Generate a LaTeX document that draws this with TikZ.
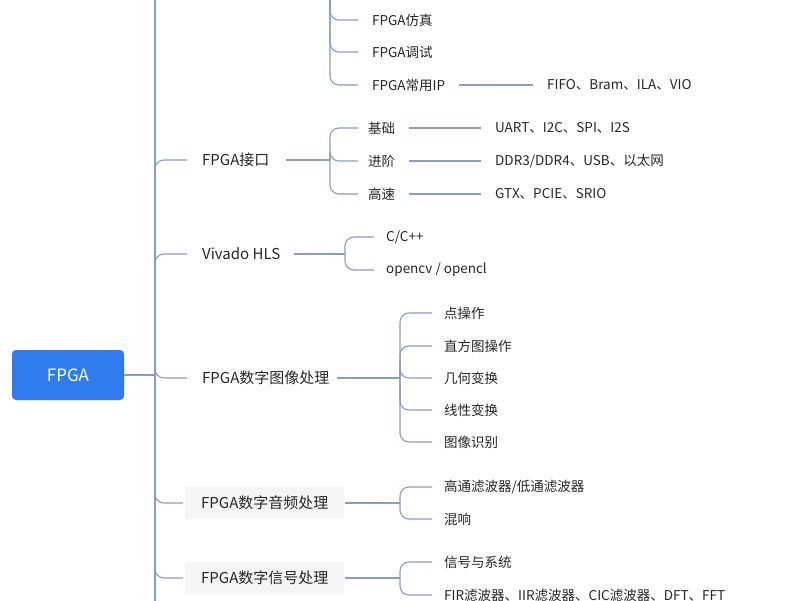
\documentclass[tikz,border=0pt]{standalone}
\usepackage{fontspec}
\setmainfont{Noto Sans CJK SC}
\definecolor{lc}{HTML}{8A9CC0}
\definecolor{rb}{HTML}{2F7BEF}
\begin{document}
\begin{tikzpicture}[x=1pt,y=-1pt,
  t/.style={anchor=west,inner sep=2pt,font=\fontsize{13.5}{15}\selectfont,text=black!85},
  l1/.style={t,font=\fontsize{15}{17}\selectfont},
  gb/.style={l1,fill=black!4,inner xsep=16pt,inner ysep=9pt},
  ln/.style={draw=lc,line width=1.1pt},
  br/.style={ln,rounded corners=9pt}]
\useasboundingbox (0,0) rectangle (800,600);
\clip (0,0) rectangle (800,600);
% root
\node[fill=rb,rounded corners=4pt,minimum width=112pt,minimum height=50pt,text=white,font=\fontsize{17}{20}\selectfont] (root) at (68,375) {FPGA};
\coordinate (m) at (155,375);
\draw[ln] (root.east) -- (m);
\coordinate (mt) at (155,-5);
\coordinate (mb) at (155,605);
\draw[ln] (mt) -- (mb);
% level 1
\node[l1] (jk) at (200,160) {FPGA接口};
\node[l1] (hls) at (200,254) {Vivado HLS};
\node[l1] (tx) at (200,378) {FPGA数字图像处理};
\node[gb] (yp) at (185,503) {FPGA数字音频处理};
\node[gb] (xh) at (185,578) {FPGA数字信号处理};
\foreach \n in {jk,hls,tx}{\draw[br] (155,300) |- ([xshift=-13pt]\n.west);}
\foreach \n in {yp,xh}{\draw[br] (155,300) |- ([xshift=-2pt]\n.west);}
% top partial group
\coordinate (top) at (330,-5);
\node[t] (fz) at (370,20) {FPGA仿真};
\node[t] (ts) at (370,52) {FPGA调试};
\node[t] (ip) at (370,85) {FPGA常用IP};
\node[t] (ipc) at (545,85) {FIFO、Bram、ILA、VIO};
\draw[ln] (top) -- (330,10);
\foreach \n in {fz,ts,ip}{\draw[br] (top) |- ([xshift=-12pt]\n.west);}
\draw[ln] ([xshift=12pt]ip.east) -- ([xshift=-12pt]ipc.west);
% interface
\coordinate (b1) at (330,160);
\draw[ln] ([xshift=14pt]jk.east) -- (b1);
\node[t] (jc) at (366,128) {基础};
\node[t] (jj) at (366,161) {进阶};
\node[t] (gs) at (366,194) {高速};
\node[t] (jc2) at (493,128) {UART、I2C、SPI、I2S};
\node[t] (jj2) at (493,161) {DDR3/DDR4、USB、以太网};
\node[t] (gs2) at (493,194) {GTX、PCIE、SRIO};
\foreach \a/\b in {jc/jc2,jj/jj2,gs/gs2}{
  \draw[br] (b1) |- ([xshift=-8pt]\a.west);
  \draw[ln] ([xshift=12pt]\a.east) -- ([xshift=-12pt]\b.west);}
% HLS
\coordinate (b2) at (345,254);
\draw[ln] ([xshift=12pt]hls.east) -- (b2);
\node[t] (cc) at (384,237) {C/C++};
\node[t] (cv) at (384,270) {opencv / opencl};
\foreach \a in {cc,cv}{\draw[br] (b2) |- ([xshift=-10pt]\a.west);}
% image
\coordinate (b3) at (400,378);
\draw[ln] ([xshift=5pt]tx.east) -- (b3);
\foreach \n/\y/\s in {d1/313/点操作,d2/346/直方图操作,d3/378/几何变换,d4/410/线性变换,d5/442/图像识别}{
  \node[t] (\n) at (442,\y) {\s};
  \draw[br] (b3) |- ([xshift=-10pt]\n.west);}
% audio
\coordinate (b4) at (400,503);
\draw[ln] (yp.east) -- (b4);
\node[t] (a1) at (442,487) {高通滤波器/低通滤波器};
\node[t] (a2) at (442,519) {混响};
\foreach \a in {a1,a2}{\draw[br] (b4) |- ([xshift=-10pt]\a.west);}
% signal
\coordinate (b5) at (400,578);
\draw[ln] (xh.east) -- (b5);
\node[t] (s1) at (442,562) {信号与系统};
\node[t] (s2) at (442,595) {FIR滤波器、IIR滤波器、CIC滤波器、DFT、FFT};
\foreach \a in {s1,s2}{\draw[br] (b5) |- ([xshift=-10pt]\a.west);}
\end{tikzpicture}
\end{document}
